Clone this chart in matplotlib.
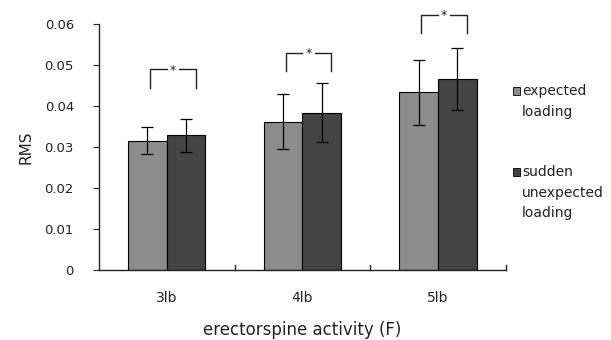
import numpy as np
import matplotlib
matplotlib.use("Agg")
import matplotlib.pyplot as plt
from matplotlib.patches import Rectangle

# data
categories = ["3lb", "4lb", "5lb"]
expected = [0.0315, 0.0361, 0.0433]
expected_err = [0.0033, 0.0067, 0.0080]
sudden = [0.0328, 0.0384, 0.0466]
sudden_err = [0.0040, 0.0073, 0.0076]
series_labels = ["expected\nloading", "sudden\nunexpected\nloading"]
yticks = [0, 0.01, 0.02, 0.03, 0.04, 0.05, 0.06]
ytick_labels = ["0", "0.01", "0.02", "0.03", "0.04", "0.05", "0.06"]
bracket_h = [0.0444, 0.0485, 0.0578]

c_light = "#8c8c8c"
c_dark = "#444444"

fig = plt.figure(figsize=(6.11, 3.40), dpi=100)
ax = fig.add_axes([0.162, 0.206, 0.666, 0.7235])

x = np.arange(len(categories))
w = 0.285
ax.bar(x - w/2, expected, w, color=c_light, edgecolor="black", linewidth=0.8,
       yerr=expected_err, error_kw=dict(ecolor="black", elinewidth=0.9, capsize=4, capthick=0.9))
ax.bar(x + w/2, sudden, w, color=c_dark, edgecolor="black", linewidth=0.8,
       yerr=sudden_err, error_kw=dict(ecolor="black", elinewidth=0.9, capsize=4, capthick=0.9))

ax.set_xlim(-0.5, len(categories) - 0.5)
ax.set_ylim(0, 0.06)
ax.set_yticks(yticks)
ax.set_yticklabels(ytick_labels)
ax.set_xticks(x)
ax.set_xticklabels(categories)
ax.tick_params(axis="x", length=0, pad=15, labelsize=10, colors="#222222")
ax.tick_params(axis="y", length=4, direction="out", labelsize=9.5, colors="#222222", pad=14)
for sp in ["top", "right"]:
    ax.spines[sp].set_visible(False)
for sp in ["left", "bottom"]:
    ax.spines[sp].set_color("#222222")
    ax.spines[sp].set_linewidth(1.0)

# category separator ticks pointing up
for b in np.arange(0.5, len(categories), 1.0):
    ax.plot([b, b], [0, 0.0012], color="#222222", lw=1.0, clip_on=False)

ax.set_ylabel("RMS", fontsize=11, color="#222222", labelpad=8)
ax.set_xlabel("erectorspine activity (F)", fontsize=12, color="#222222", labelpad=12)

# significance brackets
for i in range(len(categories)):
    x0 = x[i] - w/2 + 0.02
    x1 = x[i] + w/2 + 0.07
    yb = bracket_h[i]
    yt = yb + 0.0045
    xm = (x0 + x1) / 2
    gap = 0.045
    kw = dict(color="#222222", lw=1.0, clip_on=False)
    ax.plot([x0, x0, xm - gap], [yb, yt, yt], **kw)
    ax.plot([xm + gap, x1, x1], [yt, yt, yb], **kw)
    ax.text(xm, yt - 0.0002, "*", ha="center", va="center", fontsize=9, color="#222222", clip_on=False)

# legend, squares aligned with the first text line
leg_y = [91, 172]
for lab, col, yy in zip(series_labels, [c_light, c_dark], leg_y):
    fy = 1 - yy / 340
    fig.patches.append(Rectangle((513 / 611, fy - 4 / 340), 7 / 611, 8 / 340,
                                 transform=fig.transFigure, facecolor=col,
                                 edgecolor="black", linewidth=0.6))
    fig.text(522 / 611, fy + 7 / 340, lab, ha="left", va="top", fontsize=10,
             color="#222222", linespacing=1.6)

fig.savefig("out.png", dpi=100)
